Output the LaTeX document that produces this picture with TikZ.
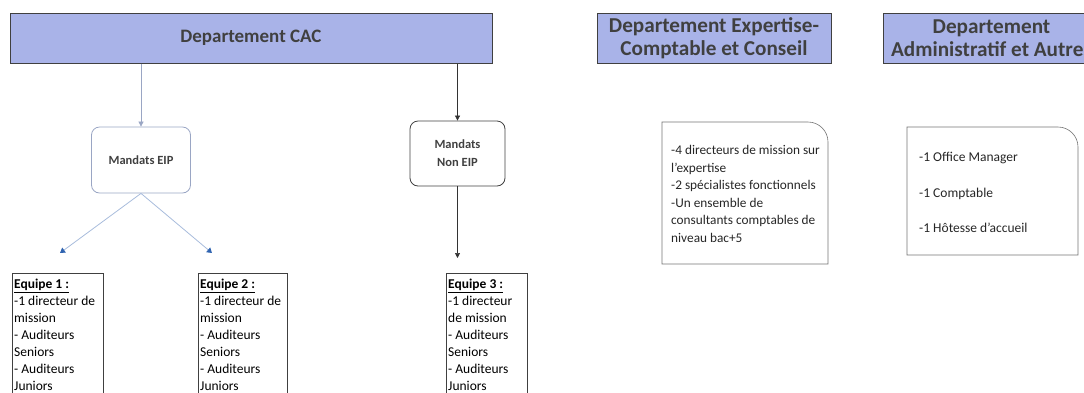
\documentclass[tikz,border=0pt]{standalone}
\usepackage{fontspec}
\setmainfont{Carlito}
\usetikzlibrary{arrows.meta}
\definecolor{hdrfill}{HTML}{A9B3E8}
\definecolor{hdrtext}{HTML}{404040}
\definecolor{eipline}{HTML}{9AA6C4}
\definecolor{lblue}{HTML}{A8BCDC}
\definecolor{dblue}{HTML}{2F63B0}
\tikzset{
  hdr/.style={draw=hdrtext, line width=1pt, fill=hdrfill, text=hdrtext, font=\fontsize{19}{21}\selectfont\bfseries, align=center, inner sep=0pt},
  hdrbig/.style={hdr, font=\fontsize{21.2}{22.5}\selectfont\bfseries},
  mandat/.style={rounded corners=8pt, font=\fontsize{12.5}{18}\selectfont\bfseries, text=hdrtext, align=center, inner sep=0pt},
  teambox/.style={draw=black!75, line width=0.6pt, anchor=north west, inner sep=0pt},
  teamtext/.style={anchor=north west, align=left, font=\fontsize{13.5}{17}\selectfont, inner sep=0pt},
  listtext/.style={anchor=north west, align=left, font=\fontsize{13.3}{17.6}\selectfont, text=black!85, inner sep=0pt},
  arrA/.style={draw=eipline, line width=0.7pt, -{Triangle[width=5pt,length=5pt]}},
  arrB/.style={draw=lblue, line width=0.8pt, -{Triangle[width=6pt,length=5pt,color=dblue]}},
  arrC/.style={draw=black!80, line width=0.7pt, -{Triangle[width=5pt,length=5pt]}},
}
\begin{document}
\begin{tikzpicture}[x=1pt,y=1pt]
\useasboundingbox (0,0) rectangle (1084,-392);
\clip (0,0) rectangle (1084,-392);
% headers
\node[hdr, minimum width=482, minimum height=50] (cac) at (251,-38) {Departement CAC};
\node[hdrbig, minimum width=234, minimum height=50] (exp) at (714,-38) {Departement Expertise-\\Comptable et Conseil};
\node[hdrbig, minimum width=217, minimum height=50] (adm) at (991.5,-38) {Departement\\Administratif et Autres};
% mandats
\node[mandat, draw=eipline, line width=0.8pt, minimum width=99, minimum height=66] (eip) at (141,-160) {Mandats EIP};
\node[mandat, draw=black!75, line width=0.8pt, minimum width=95, minimum height=65] (neip) at (457.5,-153.5) {Mandats\\Non EIP};
\draw[arrA] (cac.south -| eip) -- (eip.north);
\draw[arrC] (cac.south -| neip) -- (neip.north);
\coordinate (t1in) at (60,-253);
\coordinate (t2in) at (212,-253);
\coordinate (t3in) at (457.5,-258);
\draw[arrB] (eip.south) -- (t1in);
\draw[arrB] (eip.south) -- (t2in);
\draw[arrC] (neip.south) -- (t3in);
% teams
\node[teambox, minimum width=91, minimum height=140] (e1) at (12,-273) {};
\node[teambox, minimum width=89, minimum height=140] (e2) at (198,-273) {};
\node[teambox, minimum width=81, minimum height=140] (e3) at (446,-273) {};
\node[teamtext] (e1t) at ([xshift=2pt,yshift=-6pt]e1.north west) {\textbf{\underline{Equipe 1 :}}\\-1 directeur de\\mission\\- Auditeurs\\Seniors\\- Auditeurs\\Juniors};
\node[teamtext] (e2t) at ([xshift=2pt,yshift=-6pt]e2.north west) {\textbf{\underline{Equipe 2 :}}\\-1 directeur de\\mission\\- Auditeurs\\Seniors\\- Auditeurs\\Juniors};
\node[teamtext] (e3t) at ([xshift=2pt,yshift=-6pt]e3.north west) {\textbf{\underline{Equipe 3 :}}\\-1 directeur\\de mission\\- Auditeurs\\Seniors\\- Auditeurs\\Juniors};
% list boxes
\draw[draw=black!55, line width=0.6pt] (828,-264) -- (662,-264) -- (662,-122) -- (808,-122) arc[start angle=90,end angle=0,radius=20] -- cycle;
\node[listtext] (expt) at (671,-145) {-4 directeurs de mission sur\\l'expertise\\-2 spécialistes fonctionnels\\-Un ensemble de\\consultants comptables de\\niveau bac+5};
\draw[draw=black!55, line width=0.6pt] (1078,-255) -- (907,-255) -- (907,-127) -- (1058,-127) arc[start angle=90,end angle=0,radius=20] -- cycle;
\node[listtext, font=\fontsize{13.5}{35.5}\selectfont] (admt) at (919,-152) {-1 Office Manager\\-1 Comptable\\-1 Hôtesse d'accueil};
\end{tikzpicture}
\end{document}
